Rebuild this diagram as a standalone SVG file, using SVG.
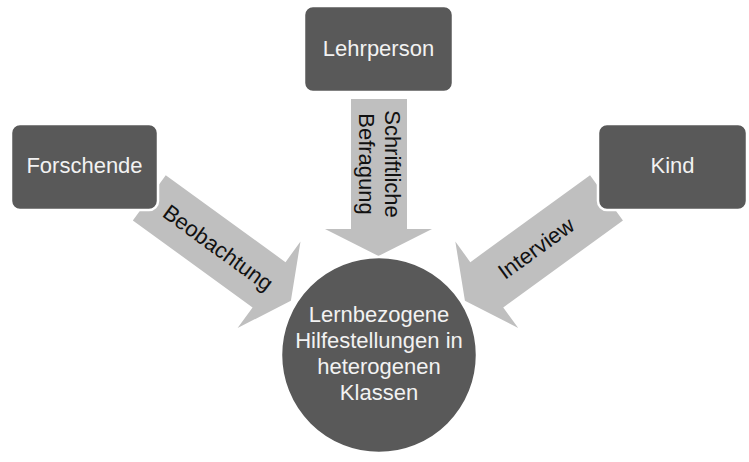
<svg xmlns="http://www.w3.org/2000/svg" width="749" height="462" viewBox="0 0 749 462">
<style>
.box{fill:#595959;stroke:#ffffff;stroke-width:2.5}
.arrow{fill:#bfbfbf}
.nt{font-family:"Liberation Sans",Arial,sans-serif;font-size:22px;fill:#f2f2f2;text-anchor:middle}
.at{font-family:"Liberation Sans",Arial,sans-serif;font-size:22px;fill:#111111;text-anchor:middle}
</style>
<defs>
<path id="diagArrow" d="M0,-28 L148,-28 L148,-53.5 L175,0 L148,53.5 L148,28 L0,28 Z"/>
</defs>
<rect width="749" height="462" fill="#ffffff"/>
<g id="connectors">
<g id="arrow-beobachtung" transform="translate(149.3,197.8) rotate(36)">
<use href="#diagArrow" class="arrow"/>
<text class="at" x="85" y="7.5">Beobachtung</text>
</g>
<g id="arrow-befragung">
<path class="arrow" d="M351,99 L407,99 L407,229 L432,229 L378.5,256 L325,229 L351,229 Z"/>
<g transform="translate(378.5,164) rotate(90)">
<text class="at" x="0" y="-6">Schriftliche</text>
<text class="at" x="0" y="20">Befragung</text>
</g>
</g>
<g id="arrow-interview">
<g transform="translate(606.5,197.8) rotate(144)">
<use href="#diagArrow" class="arrow"/>
</g>
<text class="at" transform="translate(540.5,254.5) rotate(-36)">Interview</text>
</g>
</g>
<g id="node-lehrperson">
<rect class="box" x="304" y="6" width="149" height="86" rx="9"/>
<text class="nt" x="378.5" y="56">Lehrperson</text>
</g>
<g id="node-forschende">
<rect class="box" x="11" y="124" width="147" height="86" rx="9"/>
<text class="nt" x="84.5" y="173">Forschende</text>
</g>
<g id="node-kind">
<rect class="box" x="598" y="124" width="149" height="86" rx="9"/>
<text class="nt" x="672.5" y="173">Kind</text>
</g>
<g id="node-center">
<circle class="box" cx="379" cy="355" r="98" stroke-width="1"/>
<text class="nt" x="379" y="322">Lernbezogene</text>
<text class="nt" x="379" y="348">Hilfestellungen in</text>
<text class="nt" x="379" y="374">heterogenen</text>
<text class="nt" x="379" y="400">Klassen</text>
</g>
</svg>
